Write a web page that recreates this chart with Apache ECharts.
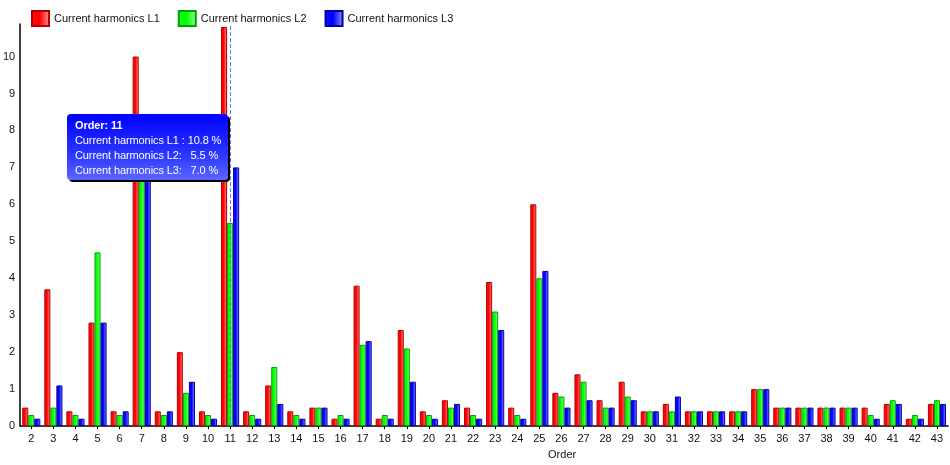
<!DOCTYPE html>
<html>
<head>
<meta charset="utf-8">
<script src="https://cdn.jsdelivr.net/npm/echarts@6/dist/echarts.min.js"></script>
<style>
html,body{margin:0;padding:0;background:#fff;}
#chart{width:950px;height:465px;}
</style>
</head>
<body>
<div id="chart"></div>
<script>
const categories = ['2','3','4','5','6','7','8','9','10','11','12','13','14','15','16','17','18','19','20','21','22','23','24','25','26','27','28','29','30','31','32','33','34','35','36','37','38','39','40','41','42','43'];
const seriesNames = ['Current harmonics L1','Current harmonics L2','Current harmonics L3'];
const valuesL1 = [0.5,3.7,0.4,2.8,0.4,10.0,0.4,2.0,0.4,10.8,0.4,1.1,0.4,0.5,0.2,3.8,0.2,2.6,0.4,0.7,0.5,3.9,0.5,6.0,0.9,1.4,0.7,1.2,0.4,0.6,0.4,0.4,0.4,1.0,0.5,0.5,0.5,0.5,0.5,0.6,0.2,0.6];
const valuesL2 = [0.3,0.5,0.3,4.7,0.3,7.0,0.3,0.9,0.3,5.5,0.3,1.6,0.3,0.5,0.3,2.2,0.3,2.1,0.3,0.5,0.3,3.1,0.3,4.0,0.8,1.2,0.5,0.8,0.4,0.4,0.4,0.4,0.4,1.0,0.5,0.5,0.5,0.5,0.3,0.7,0.3,0.7];
const valuesL3 = [0.2,1.1,0.2,2.8,0.4,7.0,0.4,1.2,0.2,7.0,0.2,0.6,0.2,0.5,0.2,2.3,0.2,1.2,0.2,0.6,0.2,2.6,0.2,4.2,0.5,0.7,0.5,0.7,0.4,0.8,0.4,0.4,0.4,1.0,0.5,0.5,0.5,0.5,0.2,0.6,0.2,0.6];
const yTicks = [0,1,2,3,4,5,6,7,8,9,10];
const highlightIndex = 9;

const FONT = '"Liberation Sans", Arial, sans-serif';
function grad(c0, c1, c2){
  return new echarts.graphic.LinearGradient(0,0,1,0,[
    {offset:0,color:c0},{offset:0.45,color:c1},{offset:1,color:c2}
  ]);
}
const styles = [
  {color: grad('#ff1010','#ff0000','#ff9a9a'), borderColor:'#b00000'},
  {color: grad('#10ff10','#00ff00','#9aff9a'), borderColor:'#00a000'},
  {color: grad('#1010ff','#0000ff','#9a9aff'), borderColor:'#0000a0'}
];
const allValues = [valuesL1, valuesL2, valuesL3];

const chart = echarts.init(document.getElementById('chart'));
chart.setOption({
  animation: false,
  textStyle: {fontFamily: FONT},
  legend: {
    left: 26, top: 5, itemWidth: 17, itemHeight: 15, itemGap: 18,
    icon: 'rect',
    textStyle: {fontSize: 11, color: '#111', fontFamily: FONT},
    data: seriesNames
  },
  grid: {left: 16, right: 2, top: 24, bottom: 33},
  tooltip: {
    trigger: 'axis',
    alwaysShowContent: true,
    triggerOn: 'none',
    position: [67, 114],
    padding: [4, 7, 2, 8],
    borderWidth: 0,
    backgroundColor: '#0000ff',
    extraCssText: 'background:linear-gradient(180deg,#0000ff 0%,#2a35ff 60%,#5a66ff 100%);border-radius:4px;box-shadow:2px 2px 0 #000;',
    axisPointer: {type: 'line', lineStyle: {color: '#7070ff', type: 'dashed', width: 1}},
    formatter: function(params){
      let s = '<div style="font-family:' + FONT.replace(/"/g,"'") + ';font-size:11px;color:#fff;line-height:15px;white-space:pre;letter-spacing:-0.1px;">';
      s += '<b style="font-size:11px">Order: ' + params[0].name + '</b><br/>';
      params.forEach(function(p){
        const v = p.value.toFixed(1);
        const label = p.seriesIndex === 0 ? p.seriesName + ' :' : p.seriesName + ':';
        s += label + ' '.repeat(1 + 2 * Math.max(0, 4 - v.length)) + v + ' %<br/>';
      });
      return s + '</div>';
    }
  },
  xAxis: {
    type: 'category',
    data: categories,
    name: 'Order',
    nameLocation: 'middle',
    nameGap: 20,
    nameTextStyle: {fontSize: 11, color: '#111', padding: [0, 0, 0, 156]},
    axisLine: {lineStyle: {color: '#000', width: 1.5}},
    axisTick: {show: true, alignWithLabel: true, length: 3, lineStyle: {color: '#000'}},
    axisLabel: {fontSize: 11, color: '#111', margin: 7},
    splitLine: {show: false}
  },
  yAxis: {
    type: 'value',
    min: yTicks[0],
    max: 10.88,
    interval: 1,
    axisLine: {show: true, lineStyle: {color: '#000', width: 1.5}},
    axisTick: {show: false},
    axisLabel: {fontSize: 11, color: '#111', margin: 5, showMaxLabel: false},
    splitLine: {show: false}
  },
  series: seriesNames.map(function(name, i){
    return {
      name: name,
      type: 'bar',
      data: allValues[i],
      barGap: '0%',
      barCategoryGap: '18%',
      itemStyle: {color: styles[i].color, borderColor: styles[i].borderColor, borderWidth: 1}
    };
  })
});
chart.dispatchAction({type: 'showTip', seriesIndex: 0, dataIndex: highlightIndex});
</script>
</body>
</html>
